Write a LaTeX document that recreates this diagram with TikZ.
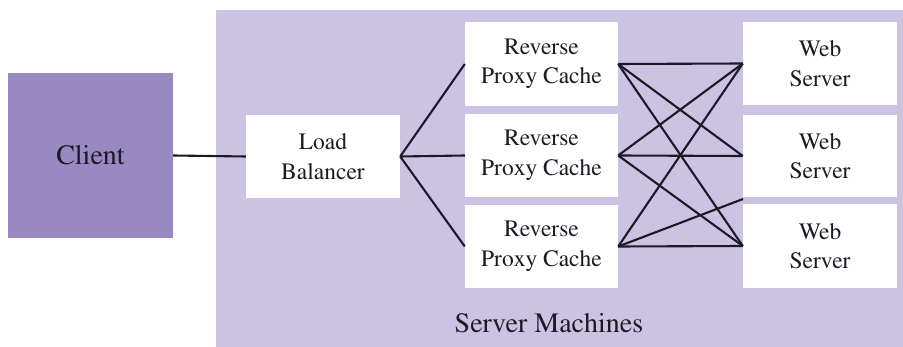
\documentclass[tikz,border=0pt]{standalone}
\usepackage[T1]{fontenc}
\renewcommand{\rmdefault}{ptm}
\definecolor{bgpurple}{RGB}{204,194,226}
\definecolor{clientpurple}{RGB}{152,137,195}
\definecolor{ink}{RGB}{28,26,36}
\begin{document}
\begin{tikzpicture}[x=1pt,y=-1pt,
  box/.style={fill=white,draw=none,inner sep=0pt,align=center,text=ink,
    font=\rmfamily\fontsize{23.5}{29.5}\selectfont},
  link/.style={line width=2.1pt,draw=ink}]
\useasboundingbox (0,0) rectangle (903,347);
\fill[white] (0,0) rectangle (903,347);
\fill[bgpurple] (216,10) rectangle (903,347);
\node[fill=clientpurple,minimum width=165pt,minimum height=165pt,inner sep=0pt,
  text=ink,font=\rmfamily\fontsize{28}{32}\selectfont] (client) at (90.5,155.5) {Client};
\node[box,minimum width=154pt,minimum height=83pt] (lb) at (323,156.5) {Load\\Balancer};
\node[box,minimum width=153pt,minimum height=84pt] (rp1) at (541.5,64) {Reverse\\Proxy Cache};
\node[box,minimum width=153pt,minimum height=83pt] (rp2) at (541.5,155.5) {Reverse\\Proxy Cache};
\node[box,minimum width=153pt,minimum height=83pt] (rp3) at (541.5,246.5) {Reverse\\Proxy Cache};
\node[box,minimum width=154pt,minimum height=83pt] (ws1) at (820,63.5) {Web\\Server};
\node[box,minimum width=154pt,minimum height=82pt] (ws2) at (820,156) {Web\\Server};
\node[box,minimum width=154pt,minimum height=84pt] (ws3) at (820,246) {Web\\Server};
\node[text=ink,font=\rmfamily\fontsize{28}{32}\selectfont] (sm) at (549,323) {Server Machines};
\coordinate (gap) at (743,199);
\draw[link] (client.east) -- (lb.west);
\draw[link] (lb.east) -- (rp1.west);
\draw[link] (lb.east) -- (rp2.west);
\draw[link] (lb.east) -- (rp3.west);
\draw[link] (rp1.east) -- (ws1.west);
\draw[link] (rp1.east) -- (ws2.west);
\draw[link] (rp1.east) -- (ws3.west);
\draw[link] (rp2.east) -- (ws1.west);
\draw[link] (rp2.east) -- (ws2.west);
\draw[link] (rp2.east) -- (ws3.west);
\draw[link] (rp3.east) -- (ws1.west);
\draw[link] (rp3.east) -- (gap);
\draw[link] (rp3.east) -- (ws3.west);
\end{tikzpicture}
\end{document}
